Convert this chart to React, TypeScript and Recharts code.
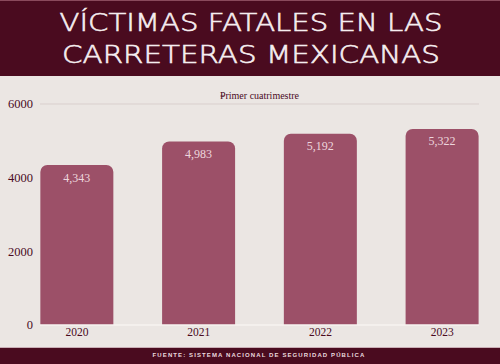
import React from "react";
import {
  BarChart,
  Bar,
  XAxis,
  YAxis,
  ReferenceLine,
  LabelList,
} from "recharts";

const YEARS = ["2020", "2021", "2022", "2023"];
const VICTIMS = [4343, 4983, 5192, 5322];
const Y_TICKS = [0, 2000, 4000, 6000];
const SERIES_NAME = "Primer cuatrimestre";

const data = YEARS.map((year, i) => ({ year, victims: VICTIMS[i] }));

const MAROON = "#4a0b1f";
const BAR = "#9c5068";
const BG = "#ebe6e3";
const SERIF = "'Liberation Serif', 'DejaVu Serif', serif";
const TITLE_FONT = "'DejaVu Sans', 'Liberation Sans', sans-serif";

// little legend-ish label sitting on the 6000 line
const SeriesLabel = (props: any) => {
  const { viewBox } = props;
  const cx = viewBox.x + viewBox.width / 2;
  const y = viewBox.y - 5;
  return (
    <g>
      <line x1={cx - 39} x2={cx - 35} y1={y - 3} y2={y - 3} stroke={MAROON} strokeWidth={0.8} />
      <text x={cx} y={y} textAnchor="middle" fill={MAROON} fontSize={10} fontFamily={SERIF}>
        {SERIES_NAME}
      </text>
    </g>
  );
};

export default function App() {
  return (
    <div
      style={{
        position: "fixed",
        top: 0,
        left: 0,
        width: 500,
        height: 364,
        background: BG,
        overflow: "hidden",
      }}
    >
      {/* header */}
      <div
        style={{
          position: "absolute",
          top: 0,
          left: 0,
          width: 500,
          height: 76,
          background: MAROON,
          borderTop: "1px solid #8a4a5c",
          boxSizing: "border-box",
        }}
      >
        <svg width={500} height={76}>
          <text
            x={251}
            y={30}
            textAnchor="middle"
            fill="#f6eef0"
            stroke="#f6eef0"
            strokeWidth={0.6}
            fontSize={25}
            fontWeight={200}
            fontFamily={TITLE_FONT}
            textLength={383}
            lengthAdjust="spacingAndGlyphs"
          >
            VÍCTIMAS FATALES EN LAS
          </text>
          <text
            x={251}
            y={62}
            textAnchor="middle"
            fill="#f6eef0"
            stroke="#f6eef0"
            strokeWidth={0.6}
            fontSize={25}
            fontWeight={200}
            fontFamily={TITLE_FONT}
            textLength={378}
            lengthAdjust="spacingAndGlyphs"
          >
            CARRETERAS MEXICANAS
          </text>
        </svg>
      </div>

      {/* chart */}
      <div style={{ position: "absolute", top: 76, left: 0 }}>
        <BarChart
          width={500}
          height={272}
          data={data}
          margin={{ top: 28, right: 21, bottom: 8, left: 0 }}
          barCategoryGap="20%"
        >
          <XAxis
            dataKey="year"
            padding={{ left: -24, right: -24 }}
            tickLine={false}
            tickSize={0}
            tickMargin={3}
            axisLine={{ stroke: "#f7f3f1", strokeWidth: 1.5 }}
            tick={{ fill: MAROON, fontSize: 11.5, fontFamily: SERIF }}
            height={15}
          />
          <YAxis
            domain={[0, 6000]}
            ticks={Y_TICKS}
            width={40}
            axisLine={false}
            tickLine={false}
            tickSize={0}
            tickMargin={7}
            tick={{ fill: MAROON, fontSize: 12.5, fontFamily: SERIF }}
          />
          <ReferenceLine
            y={6000}
            stroke="#d9cfcd"
            strokeWidth={1}
            label={<SeriesLabel />}
          />
          <Bar
            dataKey="victims"
            name={SERIES_NAME}
            fill={BAR}
            radius={[7, 7, 0, 0]}
            isAnimationActive={false}
          >
            <LabelList
              dataKey="victims"
              position="insideTop"
              offset={8}
              fill="#edd6dd"
              fontSize={12}
              fontFamily={SERIF}
              formatter={(v: number) => v.toLocaleString("en-US")}
            />
          </Bar>
        </BarChart>
      </div>

      {/* footer */}
      <div
        style={{
          position: "absolute",
          top: 347,
          left: 0,
          width: 500,
          height: 17,
          background: MAROON,
          borderTop: "1px solid #c9aeb5",
          boxSizing: "border-box",
          paddingLeft: 18,
          color: "#eadadf",
          fontFamily: "'Liberation Sans', sans-serif",
          fontSize: 6,
          fontWeight: 700,
          letterSpacing: 1.1,
          textAlign: "center",
          lineHeight: "15px",
        }}
      >
        FUENTE: SISTEMA NACIONAL DE SEGURIDAD PÚBLICA
      </div>
    </div>
  );
}
